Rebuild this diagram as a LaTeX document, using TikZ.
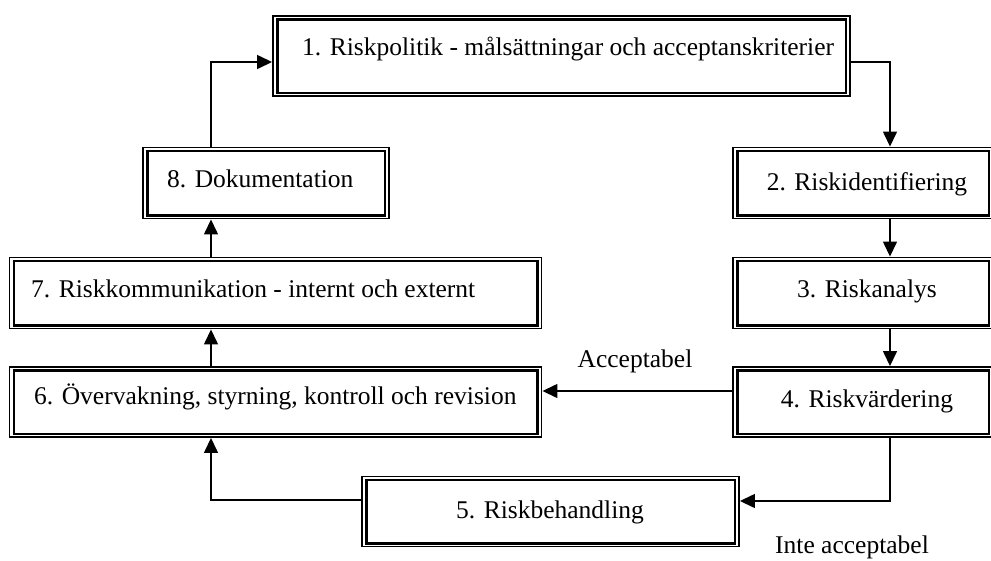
\documentclass[tikz,border=0pt]{standalone}
\usepackage{fontspec}
\setmainfont{Liberation Serif}
\usetikzlibrary{arrows.meta}
\begin{document}
\begin{tikzpicture}[x=1pt,y=-1pt,
  frame/.style={draw, rectangle, line width=1.9pt, inner sep=0pt},
  lbl/.style={font=\fontsize{25.5}{30}\selectfont, inner sep=0pt, anchor=base},
  arr/.style={line width=1.4pt, -{Triangle[width=14pt,length=15pt]}},
]
\useasboundingbox (0,0) rectangle (991,560);

% outer frames
\node[frame, minimum width=577pt, minimum height=80pt] (b1) at (561.5,56) {};
\node[frame, minimum width=260pt, minimum height=71pt] (b2) at (863,183) {};
\node[frame, minimum width=260pt, minimum height=71pt] (b3) at (863,293) {};
\node[frame, minimum width=260pt, minimum height=70pt] (b4) at (863,402) {};
\node[frame, minimum width=377pt, minimum height=70pt] (b5) at (550.5,511.5) {};
\node[frame, minimum width=532pt, minimum height=70pt] (b6) at (275.5,402) {};
\node[frame, minimum width=532pt, minimum height=71pt] (b7) at (275.5,293) {};
\node[frame, minimum width=246pt, minimum height=71pt] (b8) at (266,183) {};

% inner frame lines
\foreach \n in {b1,b2,b3,b4,b5,b6,b7,b8}
  \draw[line width=2.5pt] ([shift={(5.2,4.2)}]\n.north west) rectangle ([shift={(-5.2,-4.2)}]\n.south east);

% box texts
\node[lbl, anchor=base west] (t1) at (302,55) {1. Riskpolitik - målsättningar och acceptanskriterier};
\node[lbl] (t2) at (867,190) {2. Riskidentifiering};
\node[lbl] (t3) at (867,297) {3. Riskanalys};
\node[lbl] (t4) at (867,407) {4. Riskvärdering};
\node[lbl] (t5) at (550,518) {5. Riskbehandling};
\node[lbl, anchor=base west] (t6) at (34,404) {6. Övervakning, styrning, kontroll och revision};
\node[lbl, anchor=base west] (t7) at (31,297) {7. Riskkommunikation - internt och externt};
\node[lbl, anchor=base west] (t8) at (167,187) {8. Dokumentation};

% branch labels
\node[lbl] (acc) at (635,367) {Acceptabel};
\node[lbl] (inte) at (852,553) {Inte acceptabel};

% connectors
\draw[arr] (b1.east |- 0,62) -| (b2.north -| 890,0);
\draw[arr] (b2.south -| 890,0) -- (b3.north -| 890,0);
\draw[arr] (b3.south -| 890,0) -- (b4.north -| 890,0);
\draw[arr] (b4.west |- 0,391) -- (b6.east |- 0,391);
\draw[arr] (b4.south -| 890,0) |- (b5.east |- 0,501);
\draw[arr] (b5.west |- 0,500) -| (b6.south -| 211,0);
\draw[arr] (b6.north -| 211,0) -- (b7.south -| 211,0);
\draw[arr] (b7.north -| 211,0) -- (b8.south -| 211,0);
\draw[arr] (b8.north -| 211,0) |- (b1.west |- 0,62);
\end{tikzpicture}
\end{document}
